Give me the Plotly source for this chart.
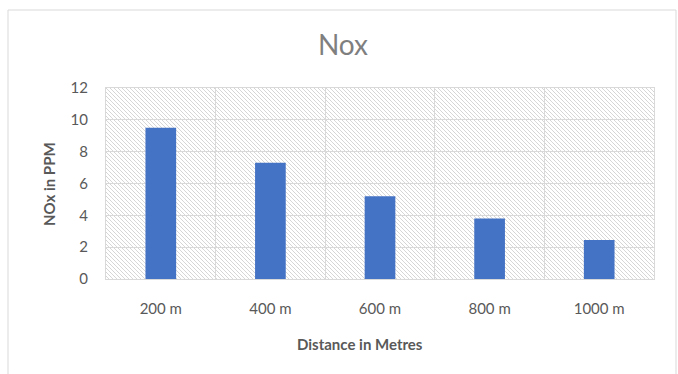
import base64
import plotly.graph_objects as go

# Measured NOx concentration at increasing distance
distances = ["200 m", "400 m", "600 m", "800 m", "1000 m"]
nox_ppm = [9.5, 7.3, 5.2, 3.8, 2.45]
y_ticks = [0, 2, 4, 6, 8, 10, 12]

W, H = 678, 374
ML, MR, MT, MB = 106, 24, 88, 95
PW, PH = W - ML - MR, H - MT - MB

GREY_TXT = "#595959"
GRID = "#d9d9d9"
FONT = "Lato, 'Open Sans', sans-serif"


def px_x(px):
    """Horizontal pixel position -> paper fraction."""
    return (px - ML) / PW


def px_y(py):
    """Vertical pixel position (from top) -> paper fraction."""
    return (H - MB - py) / PH


# Fine diagonal hatch used as the plot-area background
svg = f"""<svg xmlns='http://www.w3.org/2000/svg' width='{PW}' height='{PH}'>
<defs><pattern id='h' patternUnits='userSpaceOnUse' width='4' height='4'>
<rect width='4' height='4' fill='white'/>
<path d='M-1,-1 l2,2 M0,0 l4,4 M3,3 l2,2' stroke='#d4d4d4' stroke-width='0.9'/>
</pattern></defs>
<rect width='{PW}' height='{PH}' fill='url(#h)'/></svg>"""
hatch_uri = "data:image/svg+xml;base64," + base64.b64encode(svg.encode()).decode()

fig = go.Figure(
    go.Bar(
        x=distances,
        y=nox_ppm,
        marker=dict(color="#4472C4", line=dict(width=0)),
        width=0.28,
        hoverinfo="x+y",
    )
)

fig.update_layout(
    width=W,
    height=H,
    margin=dict(l=ML, r=MR, t=MT, b=MB),
    paper_bgcolor="white",
    plot_bgcolor="rgba(0,0,0,0)",
    showlegend=False,
    font=dict(family=FONT, color=GREY_TXT, size=15),
    title=dict(
        text="Nox",
        x=343 / W,
        xref="container",
        xanchor="center",
        y=1 - 45 / H,
        yref="container",
        yanchor="middle",
        font=dict(size=28, color="#7f7f7f", family=FONT),
    ),
    images=[
        dict(
            source=hatch_uri,
            xref="paper",
            yref="paper",
            x=0,
            y=1,
            sizex=1,
            sizey=1,
            xanchor="left",
            yanchor="top",
            sizing="stretch",
            layer="below",
        )
    ],
    shapes=[
        dict(
            type="rect",
            xref="paper",
            yref="paper",
            x0=px_x(8),
            x1=px_x(676),
            y0=px_y(H + 4),
            y1=px_y(10),
            line=dict(color=GRID, width=1),
            fillcolor="rgba(0,0,0,0)",
            layer="below",
        )
    ],
    annotations=[
        dict(
            text="<b>Distance in Metres</b>",
            xref="paper",
            yref="paper",
            x=px_x(360),
            y=px_y(344),
            xanchor="center",
            yanchor="middle",
            showarrow=False,
            font=dict(size=15, color=GREY_TXT, family=FONT),
        ),
        dict(
            text="<b>NOx in PPM</b>",
            xref="paper",
            yref="paper",
            x=px_x(49),
            y=px_y(184),
            xanchor="center",
            yanchor="middle",
            textangle=-90,
            showarrow=False,
            font=dict(size=15, color=GREY_TXT, family=FONT),
        ),
    ],
)

fig.update_xaxes(
    type="category",
    range=[-0.5, len(distances) - 0.5],
    tickson="boundaries",
    showgrid=True,
    gridcolor=GRID,
    gridwidth=1,
    showline=True,
    linecolor=GRID,
    linewidth=1,
    mirror=True,
    ticks="",
    ticklabelstandoff=16,
    tickfont=dict(size=15, color=GREY_TXT),
)

fig.update_yaxes(
    range=[0, 12],
    tickvals=y_ticks,
    showgrid=True,
    gridcolor=GRID,
    gridwidth=1,
    zeroline=False,
    showline=True,
    linecolor=GRID,
    linewidth=1,
    mirror=True,
    ticks="",
    ticklabelstandoff=14,
    tickfont=dict(size=15, color=GREY_TXT),
)

fig.write_html("out.html")
